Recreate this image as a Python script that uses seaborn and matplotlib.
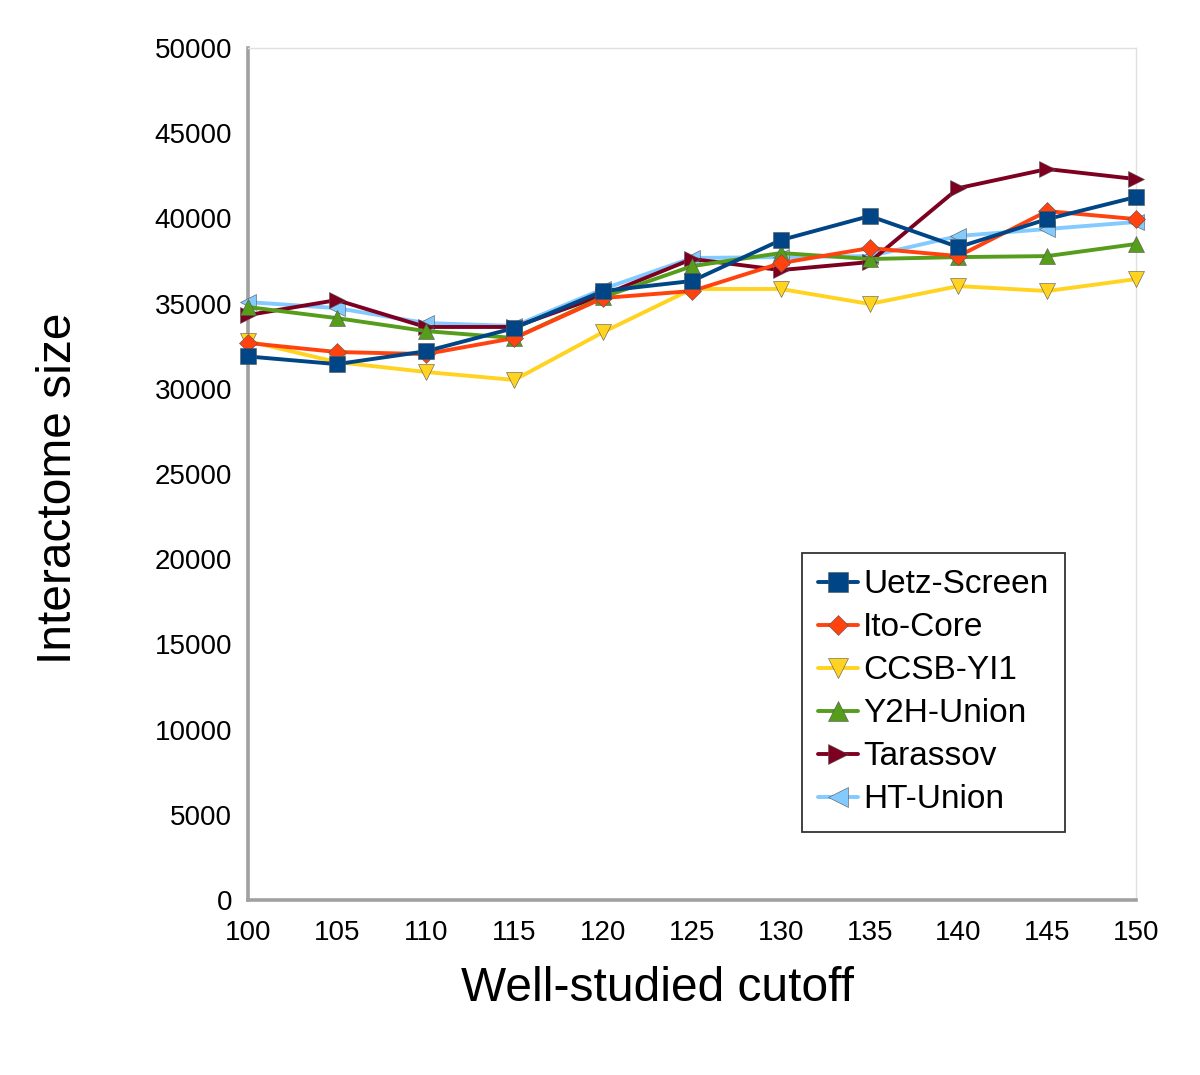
import pandas as pd
import seaborn as sns
import matplotlib.pyplot as plt

# --------------------------------------------------------------
# Data
# --------------------------------------------------------------
cutoffs = [100, 105, 110, 115, 120, 125, 130, 135, 140, 145, 150]

uetz_screen = [31900, 31450, 32200, 33570, 35740, 36330, 38730, 40140, 38320, 39960, 41260]
ito_core = [32690, 32160, 32040, 32980, 35330, 35740, 37380, 38260, 37790, 40430, 39960]
ccsb_yi1 = [32800, 31570, 30990, 30520, 33330, 35860, 35860, 34980, 36030, 35740, 36440]
y2h_union = [34800, 34150, 33390, 32980, 35390, 37200, 37970, 37620, 37730, 37790, 38500]
tarassov = [34330, 35210, 33630, 33630, 35500, 37620, 36970, 37440, 41780, 42900, 42310]
ht_union = [35090, 34740, 33860, 33690, 35860, 37680, 37730, 37790, 38970, 39380, 39790]

series_names = ['Uetz-Screen', 'Ito-Core', 'CCSB-YI1', 'Y2H-Union', 'Tarassov', 'HT-Union']
series_values = [uetz_screen, ito_core, ccsb_yi1, y2h_union, tarassov, ht_union]
colors = ['#004586', '#ff420e', '#ffd320', '#579d1c', '#7e0021', '#83caff']
markers = ['s', 'D', 'v', '^', '>', '<']
marker_sizes = [12, 9, 12, 12, 12, 12]

# long-form table for seaborn
df = pd.concat(
    [pd.DataFrame({'cutoff': cutoffs, 'size': vals, 'series': name})
     for name, vals in zip(series_names, series_values)],
    ignore_index=True,
)

# --------------------------------------------------------------
# Plot
# --------------------------------------------------------------
sns.set_style('white')
plt.rcParams['font.family'] = ['Liberation Sans', 'DejaVu Sans']
plt.rcParams['text.color'] = 'black'
plt.rcParams['axes.labelcolor'] = 'black'

fig = plt.figure(figsize=(12, 10.75), dpi=100)
ax = fig.add_axes([0.2067, 0.1628, 0.74, 0.7925])

# first series ends up on top, like the original
n = len(series_names)
for i in reversed(range(n)):
    sub = df[df['series'] == series_names[i]]
    sns.lineplot(data=sub, x='cutoff', y='size', ax=ax, color=colors[i],
                 marker=markers[i], markersize=marker_sizes[i], linewidth=2.8,
                 markeredgecolor='#555555', markeredgewidth=0.4,
                 label=series_names[i], zorder=10 + (n - i), clip_on=False)

ax.set_xlim(100, 150)
ax.set_ylim(0, 50000)
ax.set_xticks(cutoffs)
ax.set_yticks(range(0, 50001, 5000))
ax.tick_params(axis='both', labelsize=20, labelcolor='black', length=6.5,
               width=2.2, color='#a0a0a0', direction='out')
ax.tick_params(axis='y', pad=5)
ax.tick_params(axis='x', pad=8)

for side in ['left', 'bottom']:
    ax.spines[side].set_color('#a0a0a0')
    ax.spines[side].set_linewidth(2.6)
for side in ['top', 'right']:
    ax.spines[side].set_color('#e0e0e0')
    ax.spines[side].set_linewidth(1)

ax.set_xlabel('Well-studied cutoff', fontsize=34.5)
ax.xaxis.set_label_coords(0.461, -0.078)
ax.set_ylabel('Interactome size', fontsize=34.5)
ax.yaxis.set_label_coords(-0.188, 0.483)

# legend in the original series order
handles, labels = ax.get_legend_handles_labels()
order = [labels.index(name) for name in series_names]
leg = ax.legend([handles[k] for k in order], [labels[k] for k in order],
                loc='lower right', bbox_to_anchor=(0.9201, 0.0798), fontsize=24,
                frameon=True, fancybox=False, edgecolor='black',
                handlelength=1.2, handletextpad=0.15, labelspacing=0.36,
                borderpad=0.5, borderaxespad=0, markerscale=1.15)
leg.get_frame().set_linewidth(1.3)

fig.savefig('out.png', dpi=100)
